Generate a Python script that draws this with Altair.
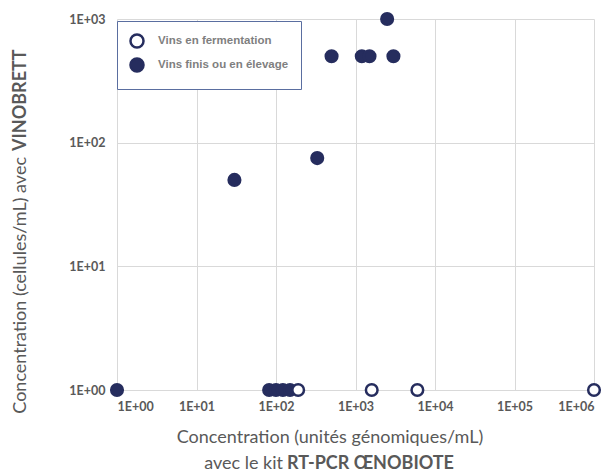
import altair as alt
import pandas as pd

# Data
x_ferment = [190, 1600, 6000, 1000000]
y_ferment = [1, 1, 1, 1]
x_finis = [1, 30, 330, 500, 1200, 1500, 3000, 2500, 82, 100, 122, 150]
y_finis = [1, 50, 75, 500, 500, 500, 500, 1000, 1, 1, 1, 1]
cat_ferment = "Vins en fermentation"
cat_finis = "Vins finis ou en élevage"

rows = [{"x": a, "y": b, "type": cat_finis} for a, b in zip(x_finis, y_finis)]
rows += [{"x": a, "y": b, "type": cat_ferment} for a, b in zip(x_ferment, y_ferment)]
df = pd.DataFrame(rows)

NAVY = "#262d5e"
GREY = "#595959"
W, H = 477, 371

label_expr = "'1E+0' + round(log(datum.value)/LN10)"

points = alt.Chart(df).mark_point(
    shape="circle", filled=True, size=135, stroke=NAVY, strokeWidth=2.5, opacity=1
).encode(
    x=alt.X("x:Q", scale=alt.Scale(type="log", domain=[1, 1e6], nice=False),
            axis=alt.Axis(values=[1, 10, 100, 1000, 10000, 100000, 1000000],
                          labelExpr=label_expr, title=None, grid=True,
                          gridColor="#d9d9d9", domain=False, ticks=False,
                          labelFont="Lato", labelFontWeight="bold",
                          labelFontSize=12.5, labelColor=GREY, labelPadding=10)),
    y=alt.Y("y:Q", scale=alt.Scale(type="log", domain=[1, 1000], nice=False),
            axis=alt.Axis(values=[1, 10, 100, 1000], labelExpr=label_expr,
                          title=None, grid=True, gridColor="#d9d9d9",
                          domain=False, ticks=False, labelFont="Lato",
                          labelFontWeight="bold", labelFontSize=12.5,
                          labelColor=GREY, labelPadding=12)),
    fill=alt.Fill("type:N",
                  scale=alt.Scale(domain=[cat_ferment, cat_finis],
                                  range=["white", NAVY]),
                  legend=alt.Legend(title=None, orient="none", legendX=0, legendY=2,
                                    strokeColor="#5a6ea0", fillColor="white",
                                    padding=12, rowPadding=0,
                                    symbolType="circle", symbolSize=170,
                                    symbolStrokeColor=NAVY, symbolStrokeWidth=2.5,
                                    labelFont="Liberation Sans",
                                    labelFontWeight="bold", labelFontSize=11.5,
                                    labelColor="#7f7f7f", labelOffset=13)),
)

def txt(text, x, y, align, weight="normal", angle=0):
    return alt.Chart(pd.DataFrame({"t": [text]})).mark_text(
        font="Lato", fontSize=18, color=GREY, align=align, baseline="middle",
        fontWeight=weight, angle=angle
    ).encode(text="t:N", x=alt.value(x), y=alt.value(y))

titles = [
    txt("Concentration (cellules/mL) avec", -96, 138, "right", angle=270),
    txt("VINOBRETT", -96, 132, "left", "bold", angle=270),
    txt("Concentration (unités génomiques/mL)", 213, 419, "center"),
    txt("avec le kit", 166, 445, "right"),
    txt("RT-PCR ŒNOBIOTE", 170, 445, "left", "bold"),
]

chart = alt.layer(points, *titles).properties(
    width=W, height=H,
    autosize=alt.AutoSizeParams(type="none"),
    padding={"left": 109, "top": 11, "right": 13, "bottom": 88},
).configure_view(stroke=None)

chart.save("out.html", embed_options={"renderer": "svg", "actions": False})
